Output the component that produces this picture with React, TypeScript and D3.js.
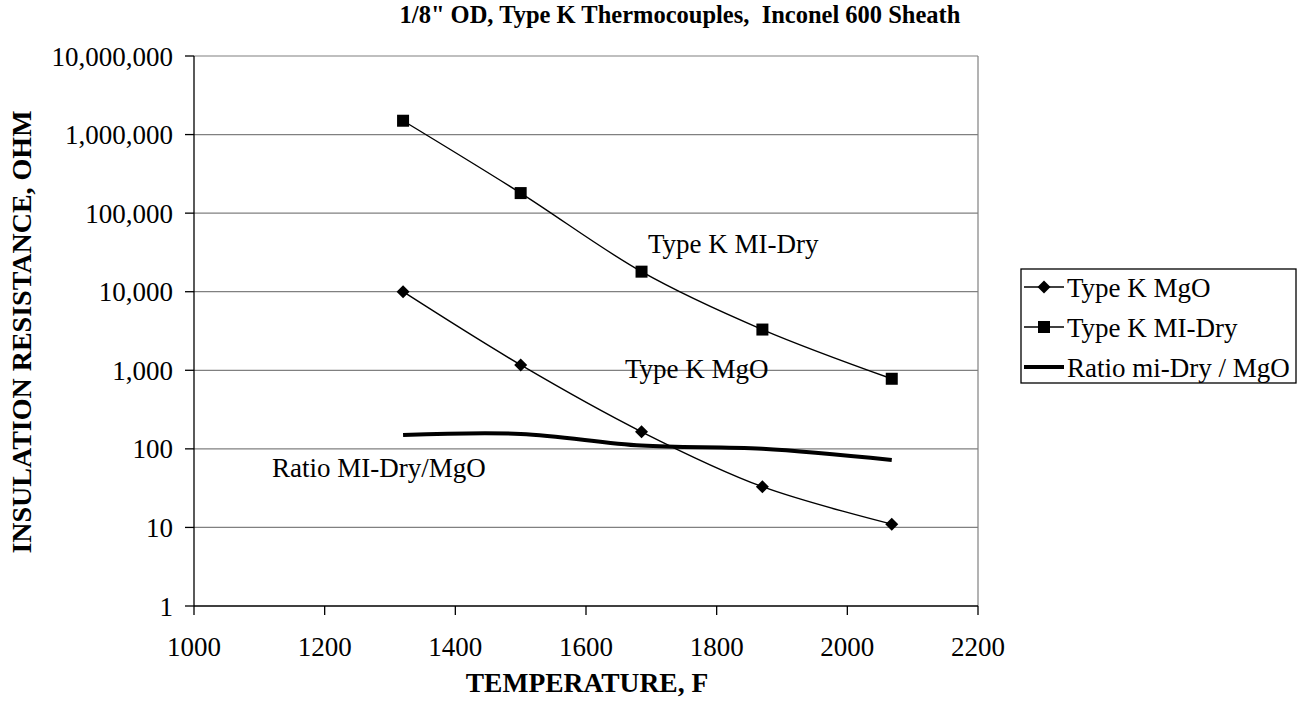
import React from "react";
import * as d3 from "d3";

// chart values
const temps = [1320, 1500, 1685, 1870, 2068];
const mgo = [10000, 1170, 165, 33, 11];
const miDry = [1500000, 180000, 18000, 3300, 780];
const ratio = [150, 155, 110, 100, 72];
const xTicks = [1000, 1200, 1400, 1600, 1800, 2000, 2200];
const yTicks = [1, 10, 100, 1000, 10000, 100000, 1000000, 10000000];
const legendNames = ["Type K MgO", "Type K MI-Dry", "Ratio mi-Dry / MgO"];

const FONT = "'Liberation Serif', 'Times New Roman', serif";

function Diamond({ x, y, r }: { x: number; y: number; r: number }) {
  return <path d={`M${x},${y - r}L${x + r},${y}L${x},${y + r}L${x - r},${y}Z`} fill="#000" />;
}

function Square({ x, y, s }: { x: number; y: number; s: number }) {
  return <rect x={x - s / 2} y={y - s / 2} width={s} height={s} fill="#000" />;
}

export default function App() {
  const W = 1305;
  const H = 709;
  const margin = { top: 56, right: 327, bottom: 103, left: 194 };
  const innerW = W - margin.left - margin.right;
  const innerH = H - margin.top - margin.bottom;

  const x = d3.scaleLinear().domain([1000, 2200]).range([margin.left, margin.left + innerW]);
  const y = d3.scaleLog().domain([1, 10000000]).range([margin.top + innerH, margin.top]);

  const line = d3
    .line<number>()
    .x((_, i) => x(temps[i]))
    .y((d) => y(d))
    .curve(d3.curveCatmullRom.alpha(0));

  const fmt = d3.format(",");
  const bottom = margin.top + innerH;
  const right = margin.left + innerW;

  return (
    <svg
      width={W}
      height={H}
      style={{ position: "absolute", left: 0, top: 0, background: "#fff" }}
      fontFamily={FONT}
    >
      <text x={680} y={23} textAnchor="middle" fontWeight="bold" fontSize={24.5}>
        1/8" OD, Type K Thermocouples,{"\u00a0\u00a0"}Inconel 600 Sheath
      </text>

      {/* grid */}
      {yTicks.slice(1).map((t) => (
        <line key={t} x1={margin.left} x2={right} y1={y(t)} y2={y(t)} stroke="#808080" strokeWidth={1.2} />
      ))}
      <line x1={right} x2={right} y1={margin.top} y2={bottom} stroke="#808080" strokeWidth={1.2} />

      {/* axes */}
      <line x1={margin.left} x2={margin.left} y1={margin.top} y2={bottom} stroke="#000" strokeWidth={1.3} />
      <line x1={margin.left} x2={right} y1={bottom} y2={bottom} stroke="#000" strokeWidth={1.3} />
      {yTicks.map((t) => (
        <g key={t}>
          <line x1={margin.left - 9} x2={margin.left} y1={y(t)} y2={y(t)} stroke="#000" strokeWidth={1.3} />
          <text x={173} y={y(t) + 9.5} textAnchor="end" fontSize={27}>
            {fmt(t)}
          </text>
        </g>
      ))}
      {xTicks.map((t) => (
        <g key={t}>
          <line x1={x(t)} x2={x(t)} y1={bottom} y2={bottom + 9} stroke="#000" strokeWidth={1.3} />
          <text x={x(t)} y={656} textAnchor="middle" fontSize={27}>
            {t}
          </text>
        </g>
      ))}

      <text x={587} y={692} textAnchor="middle" fontWeight="bold" fontSize={27.5}>
        TEMPERATURE, F
      </text>
      <text
        transform={`translate(31,332) rotate(-90)`}
        textAnchor="middle"
        fontWeight="bold"
        fontSize={28}
      >
        INSULATION RESISTANCE, OHM
      </text>

      {/* series */}
      <path d={line(ratio) || ""} fill="none" stroke="#000" strokeWidth={4} />
      <path d={line(mgo) || ""} fill="none" stroke="#000" strokeWidth={1.4} />
      <path d={line(miDry) || ""} fill="none" stroke="#000" strokeWidth={1.4} />
      {mgo.map((v, i) => (
        <Diamond key={"d" + i} x={x(temps[i])} y={y(v)} r={6.5} />
      ))}
      {miDry.map((v, i) => (
        <Square key={"s" + i} x={x(temps[i])} y={y(v)} s={12} />
      ))}

      {/* in-plot labels */}
      <text x={648} y={253} fontSize={27}>Type K MI-Dry</text>
      <text x={625} y={378} fontSize={27}>Type K MgO</text>
      <text x={272} y={477} fontSize={27}>Ratio MI-Dry/MgO</text>

      {/* legend */}
      <rect x={1021} y={269} width={275} height={114} fill="#fff" stroke="#000" strokeWidth={1.3} />
      {legendNames.map((name, i) => {
        const cy = 287 + i * 40;
        return (
          <g key={name}>
            <line x1={1024} x2={1064} y1={cy} y2={cy} stroke="#000" strokeWidth={i === 2 ? 4 : 1.4} />
            {i === 0 && <Diamond x={1044} y={cy} r={6.5} />}
            {i === 1 && <Square x={1044} y={cy} s={12} />}
            <text x={1067} y={cy + 10} fontSize={27}>
              {name}
            </text>
          </g>
        );
      })}
    </svg>
  );
}
